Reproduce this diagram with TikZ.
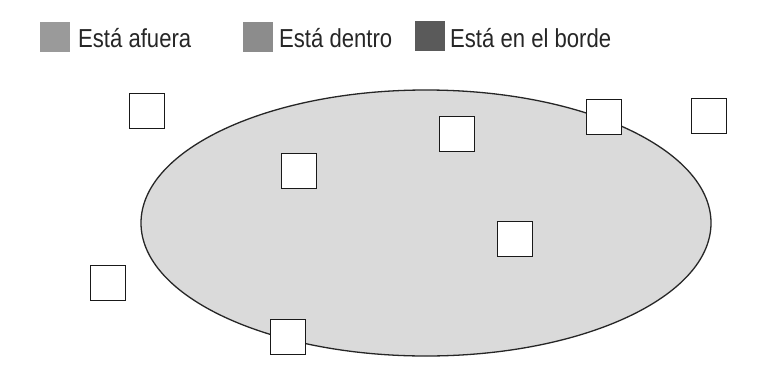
\documentclass[tikz,border=0pt]{standalone}
\usepackage{fontspec}
\setmainfont{Liberation Sans}
\usetikzlibrary{shapes.geometric}
\definecolor{outgray}{HTML}{9A9A9A}
\definecolor{ingray}{HTML}{8C8C8C}
\definecolor{edgegray}{HTML}{5A5A5A}
\definecolor{ellgray}{HTML}{DADADA}
\tikzset{
  keybox/.style={minimum size=30pt, inner sep=0pt, draw=none},
  keytext/.style={anchor=base west, inner sep=0pt, font=\fontsize{26}{30}\selectfont, text=black!85},
  tile/.style={draw=black!90, line width=1.8pt, fill=white, minimum size=35pt, inner sep=0pt},
  region/.style={draw=black!85, line width=1.3pt, fill=ellgray}
}
\newcommand{\narrow}[1]{\scalebox{0.85}[1]{#1}}
\begin{document}
\begin{tikzpicture}[x=1pt,y=-1pt]
\useasboundingbox (0,0) rectangle (763,381);
\fill[white] (0,0) rectangle (763,381);
% legend
\node[keybox, fill=outgray] (k1) at (55,37) {};
\node[keytext] (t1) at (78,47) {\narrow{Está afuera}};
\node[keybox, fill=ingray] (k2) at (258,37) {};
\node[keytext] (t2) at (279,47) {\narrow{Está dentro}};
\node[keybox, fill=edgegray] (k3) at (430,36) {};
\node[keytext] (t3) at (450,47) {\narrow{Está en el borde}};
% region
\node[region, ellipse, minimum width=570pt, minimum height=266pt, inner sep=0pt] (ell) at (426,223) {};
% tiles
\node[tile] (s1) at (147,111) {};
\node[tile] (s2) at (299,171) {};
\node[tile] (s3) at (457,134) {};
\node[tile] (s4) at (604,117) {};
\node[tile] (s5) at (709,116) {};
\node[tile] (s6) at (515,239) {};
\node[tile] (s7) at (108,283) {};
\node[tile] (s8) at (288,337) {};
\end{tikzpicture}
\end{document}
